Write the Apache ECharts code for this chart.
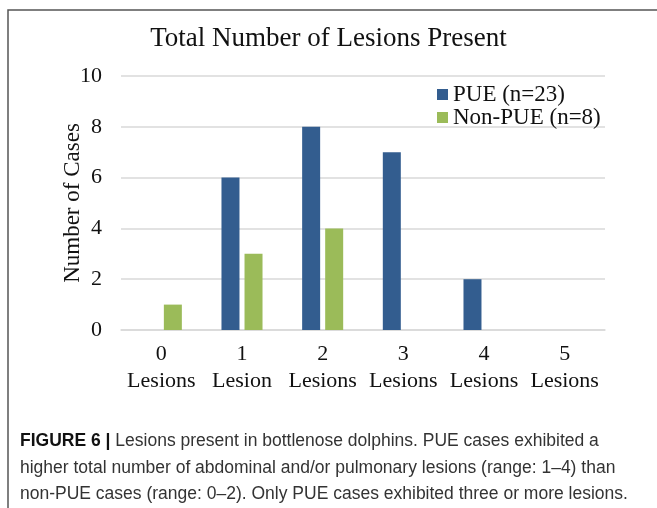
<!DOCTYPE html>
<html>
<head>
<meta charset="utf-8">
<script src="https://cdn.jsdelivr.net/npm/echarts@6/dist/echarts.min.js"></script>
<style>
  html, body { margin: 0; padding: 0; background: #fff; }
  #main { width: 657px; height: 508px; }
</style>
</head>
<body>
<div id="main"></div>
<script>
// data
var categories = ['0\nLesions', '1\nLesion', '2\nLesions', '3\nLesions', '4\nLesions', '5\nLesions']
var pueValues = [0, 6, 8, 7, 2, 0]
var nonPueValues = [1, 3, 4, 0, 0, 0]
var seriesNames = ['PUE (n=23)', 'Non-PUE (n=8)']
var serif = 'Liberation Serif'

var chart = echarts.init(document.getElementById('main'))
var option = {
  animation: false,
  title: {
    text: 'Total Number of Lesions Present',
    left: 'center',
    top: 20,
    textStyle: { fontFamily: serif, fontSize: 27, fontWeight: 'normal', color: '#111' }
  },
  color: ['#335d8f', '#9bbb59'],
  legend: {
    orient: 'vertical',
    left: 432,
    top: 78,
    itemWidth: 11,
    itemHeight: 11,
    itemGap: 0,
    icon: 'rect',
    textStyle: { fontFamily: serif, fontSize: 23, color: '#111', lineHeight: 20 },
    data: seriesNames
  },
  grid: { left: 121, right: 52, top: 76, bottom: 178 },
  xAxis: {
    type: 'category',
    data: categories,
    axisTick: { show: false },
    axisLine: { lineStyle: { color: '#d9d9d9', width: 1.5 } },
    axisLabel: { fontFamily: serif, fontSize: 22, color: '#111', lineHeight: 27, margin: 11, interval: 0 }
  },
  yAxis: {
    type: 'value',
    min: 0,
    max: 10,
    interval: 2,
    name: 'Number of Cases',
    nameLocation: 'middle',
    nameGap: 37,
    nameMoveOverlap: false,
    nameTextStyle: { fontFamily: serif, fontSize: 23, color: '#111' },
    axisLabel: { fontFamily: serif, fontSize: 22, color: '#111', margin: 19 },
    splitLine: { lineStyle: { color: '#d9d9d9', width: 1.5 } }
  },
  series: [
    { name: seriesNames[0], type: 'bar', barWidth: 18, barGap: '28%', data: pueValues },
    { name: seriesNames[1], type: 'bar', barWidth: 18, barGap: '28%', data: nonPueValues }
  ],
  graphic: [
    {
      type: 'polyline',
      shape: { points: [[8, 508], [8, 10], [657, 10]] },
      style: { stroke: '#555', lineWidth: 1.5, fill: null }
    },
    {
      type: 'text',
      left: 20,
      top: 428,
      style: {
        text: '{b|FIGURE 6 |} Lesions present in bottlenose dolphins. PUE cases exhibited a\n' +
          'higher total number of abdominal and/or pulmonary lesions (range: 1\u20134) than\n' +
          'non-PUE cases (range: 0\u20132). Only PUE cases exhibited three or more lesions.',
        fontFamily: 'Liberation Sans',
        fontSize: 17.5,
        lineHeight: 26.5,
        fill: '#333',
        rich: {
          b: { fontFamily: 'Liberation Sans', fontSize: 17.5, fontWeight: 'bold', fill: '#111', lineHeight: 26.5 }
        }
      }
    }
  ]
}
chart.setOption(option)
</script>
</body>
</html>
